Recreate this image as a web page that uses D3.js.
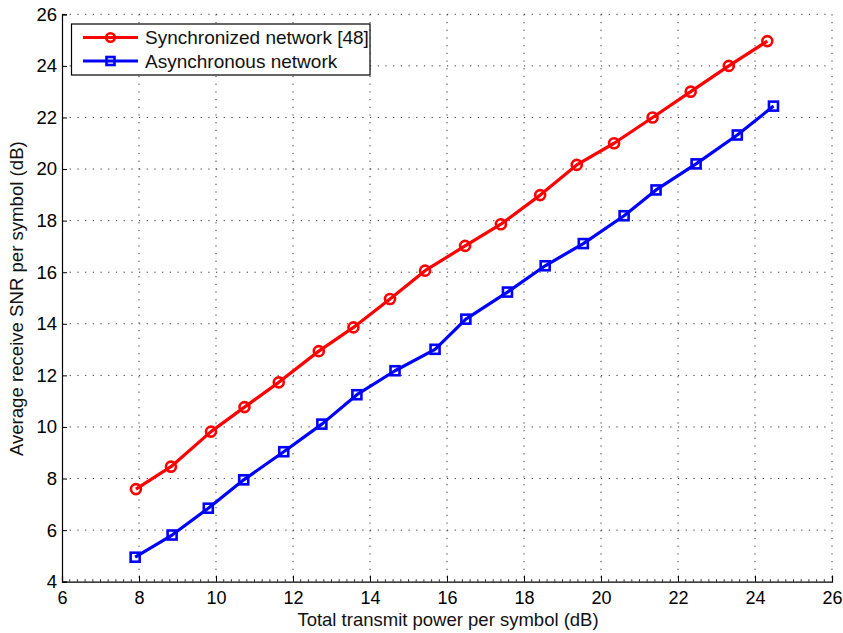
<!DOCTYPE html>
<html>
<head>
<meta charset="utf-8">
<script src="https://cdn.jsdelivr.net/npm/d3@7"></script>
<style>
  html, body { margin: 0; padding: 0; background: #fff; }
  svg { display: block; font-family: "Liberation Sans", Arial, Helvetica, sans-serif; }
</style>
</head>
<body>
<svg id="chart" width="843" height="633"></svg>
<script>
// Total transmit power per symbol (dB) and average receive SNR (dB)
const syncPower = [7.92, 8.83, 9.87, 10.74, 11.63, 12.67, 13.57, 14.52, 15.43, 16.47, 17.40, 18.42, 19.37, 20.34, 21.34, 22.33, 23.32, 24.32];
const syncSNR   = [7.59, 8.46, 9.82, 10.77, 11.73, 12.94, 13.86, 14.96, 16.06, 17.02, 17.86, 18.99, 20.16, 21.00, 22.00, 23.00, 24.00, 24.96];
const asyncPower = [7.90, 8.86, 9.80, 10.72, 11.76, 12.75, 13.66, 14.65, 15.69, 16.49, 17.57, 18.55, 19.54, 20.60, 21.43, 22.47, 23.54, 24.48];
const asyncSNR   = [4.95, 5.81, 6.85, 7.95, 9.04, 10.11, 11.25, 12.18, 13.01, 14.18, 15.23, 16.25, 17.11, 18.19, 19.19, 20.20, 21.32, 22.44];
const xTicks = [6, 8, 10, 12, 14, 16, 18, 20, 22, 24, 26];
const yTicks = [4, 6, 8, 10, 12, 14, 16, 18, 20, 22, 24, 26];
const seriesNames = ["Synchronized network [48]", "Asynchronous network"];

const svg = d3.select("#chart");
const plotLeft = 62, plotRight = 832, plotTop = 14.3, plotBottom = 581.7;

const x = d3.scaleLinear().domain([6, 26]).range([plotLeft, plotRight]);
const y = d3.scaleLinear().domain([4, 26]).range([plotBottom, plotTop]);

const gridColor = "#333";
// dotted grid
const grid = svg.append("g");
grid.selectAll("line.gx").data(xTicks.slice(1)).join("line")
  .attr("x1", d => x(d)).attr("x2", d => x(d))
  .attr("y1", plotTop).attr("y2", plotBottom)
  .attr("stroke", gridColor).attr("stroke-width", 1)
  .attr("stroke-dasharray", "1.2,6.5");
grid.selectAll("line.gy").data(yTicks.slice(1)).join("line")
  .attr("x1", plotLeft).attr("x2", plotRight)
  .attr("y1", d => y(d)).attr("y2", d => y(d))
  .attr("stroke", gridColor).attr("stroke-width", 1)
  .attr("stroke-dasharray", "1.2,6.5");

// bottom axis with inward ticks
const xAxis = d3.axisBottom(x).tickValues(xTicks).tickSize(-6).tickPadding(9.5).tickFormat(d3.format("d"));
const gx = svg.append("g").attr("transform", `translate(0,${plotBottom})`).call(xAxis);
gx.select(".domain").attr("stroke", "#000").attr("stroke-width", 1.2);
gx.selectAll(".tick line").attr("stroke", "#000");
gx.selectAll(".tick text").attr("font-size", 18).attr("fill", "#000").attr("font-family", "Liberation Sans, Arial, sans-serif");

// minor ticks along bottom axis
const minor = d3.range(6, 26.001, 0.2).filter(v => Math.abs(v - Math.round(v / 2) * 2) > 1e-6);
svg.append("g").selectAll("line").data(minor).join("line")
  .attr("x1", d => x(d)).attr("x2", d => x(d))
  .attr("y1", plotBottom).attr("y2", plotBottom - 2.5)
  .attr("stroke", "#000").attr("stroke-width", 0.8);

// left axis with inward ticks
const yAxis = d3.axisLeft(y).tickValues(yTicks).tickSize(-5).tickPadding(5).tickFormat(d3.format("d"));
const gy = svg.append("g").attr("transform", `translate(${plotLeft},0)`).call(yAxis);
gy.select(".domain").attr("stroke", "#000").attr("stroke-width", 1.2);
gy.selectAll(".tick line").attr("stroke", "#000");
gy.selectAll(".tick text").attr("font-size", 18.5).attr("fill", "#000").attr("font-family", "Liberation Sans, Arial, sans-serif");

// axis titles
svg.append("text").attr("x", 448).attr("y", 626)
  .attr("text-anchor", "middle").attr("font-size", 18.5).attr("fill", "#111")
  .text("Total transmit power per symbol (dB)");
svg.append("text").attr("transform", `translate(23,298.7) rotate(-90)`)
  .attr("text-anchor", "middle").attr("font-size", 18.6).attr("fill", "#111")
  .text("Average receive SNR per symbol (dB)");

const line = d3.line().x(d => x(d[0])).y(d => y(d[1]));
const syncData = syncPower.map((p, i) => [p, syncSNR[i]]);
const asyncData = asyncPower.map((p, i) => [p, asyncSNR[i]]);

// synchronized series: red line with circle markers
svg.append("path").datum(syncData).attr("d", line)
  .attr("fill", "none").attr("stroke", "#ff0000").attr("stroke-width", 3.2).attr("stroke-linejoin", "round");
svg.append("g").selectAll("circle").data(syncData).join("circle")
  .attr("cx", d => x(d[0])).attr("cy", d => y(d[1])).attr("r", 5)
  .attr("fill", "none").attr("stroke", "#ff0000").attr("stroke-width", 2.6);

// asynchronous series: blue line with square markers
svg.append("path").datum(asyncData).attr("d", line)
  .attr("fill", "none").attr("stroke", "#0000ff").attr("stroke-width", 3.2).attr("stroke-linejoin", "round");
svg.append("g").selectAll("rect").data(asyncData).join("rect")
  .attr("x", d => x(d[0]) - 4.5).attr("y", d => y(d[1]) - 4.5)
  .attr("width", 9).attr("height", 9)
  .attr("fill", "none").attr("stroke", "#0000ff").attr("stroke-width", 2.6);

// legend
const lg = svg.append("g");
lg.append("rect").attr("x", 71.5).attr("y", 24).attr("width", 298.5).attr("height", 51)
  .attr("fill", "#fff").attr("stroke", "#000").attr("stroke-width", 1.2);
const rows = [
  { name: seriesNames[0], color: "#ff0000", marker: "circle", cy: 37.5 },
  { name: seriesNames[1], color: "#0000ff", marker: "square", cy: 61 }
];
rows.forEach(r => {
  lg.append("line").attr("x1", 83).attr("x2", 138).attr("y1", r.cy).attr("y2", r.cy)
    .attr("stroke", r.color).attr("stroke-width", 3.2);
  if (r.marker === "circle") {
    lg.append("circle").attr("cx", 110.5).attr("cy", r.cy).attr("r", 4.3)
      .attr("fill", "none").attr("stroke", r.color).attr("stroke-width", 2.6);
  } else {
    lg.append("rect").attr("x", 106.5).attr("y", r.cy - 4).attr("width", 8).attr("height", 8)
      .attr("fill", "none").attr("stroke", r.color).attr("stroke-width", 2.6);
  }
  lg.append("text").attr("x", 145).attr("y", r.cy + 6.5).attr("font-size", 19).attr("fill", "#111")
    .text(r.name);
});
</script>
</body>
</html>
